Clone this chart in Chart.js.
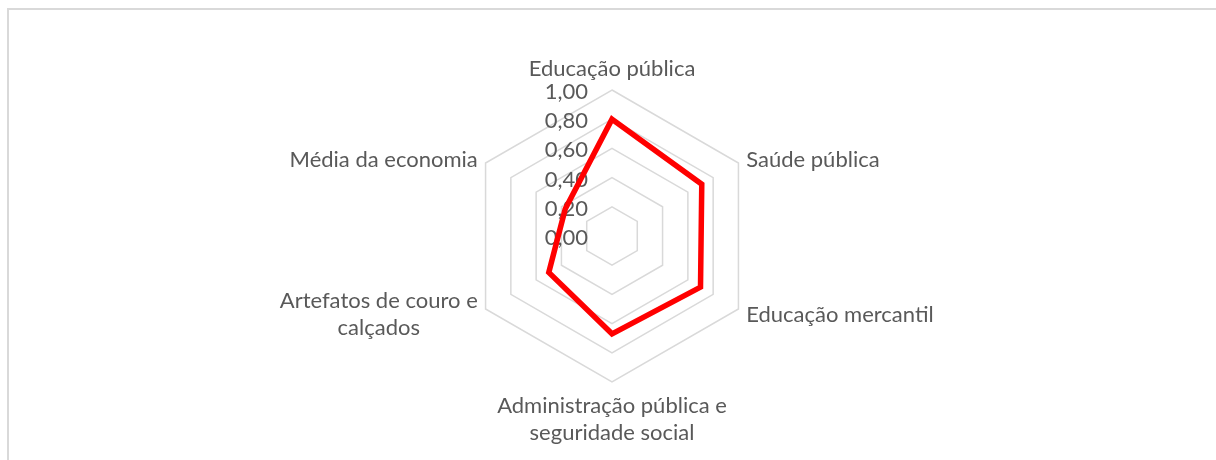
<!DOCTYPE html>
<html>
<head>
<meta charset="utf-8">
<script src="https://cdn.jsdelivr.net/npm/chart.js@4.4.0/dist/chart.umd.min.js"></script>
<style>
  html, body { margin: 0; padding: 0; background: #ffffff; }
  #wrap { position: relative; width: 1216px; height: 460px; overflow: hidden; }
  #frame { position: absolute; left: 7px; top: 8px; width: 1300px; height: 600px;
           border-top: 2px solid #d9d9d9; border-left: 2px solid #d9d9d9; box-sizing: border-box; }
  canvas { position: absolute; left: 0; top: 0; }
</style>
</head>
<body>
<div id="wrap">
  <div id="frame"></div>
  <canvas id="c" width="1216" height="460"></canvas>
</div>
<script>
// ---- data ----
const categories = [
  ["Educação pública"],
  ["Saúde pública"],
  ["Educação mercantil"],
  ["Administração pública e", "seguridade social"],
  ["Artefatos de couro e", "calçados"],
  ["Média da economia"]
];
const seriesValues = [0.80, 0.71, 0.70, 0.67, 0.50, 0.37];
const tickValues = [0.00, 0.20, 0.40, 0.60, 0.80, 1.00];
const tickLabels = ["0,00", "0,20", "0,40", "0,60", "0,80", "1,00"];

const FONT = '22px Lato';
const TEXT_COLOR = '#595959';
const LINE_H = 27;

const labelPlugin = {
  id: 'excelLabels',
  beforeDatasetsDraw(chart) {
    const scale = chart.scales.r;
    const ctx = chart.ctx;
    ctx.save();
    ctx.font = FONT;
    ctx.fillStyle = TEXT_COLOR;
    ctx.textAlign = 'right';
    ctx.textBaseline = 'alphabetic';
    tickValues.forEach((v, i) => {
      const y = scale.yCenter - scale.getDistanceFromCenterForValue(v);
      ctx.fillText(tickLabels[i], scale.xCenter - 24, y + 9);
    });
    ctx.restore();
  },
  afterDraw(chart) {
    const scale = chart.scales.r;
    const ctx = chart.ctx;
    ctx.save();
    ctx.font = FONT;
    ctx.fillStyle = TEXT_COLOR;
    ctx.textBaseline = 'alphabetic';
    const pad = 9;
    categories.forEach((lines, i) => {
      const p = scale.getPointPosition(i, scale.drawingArea + pad);
      const dx = p.x - scale.xCenter;
      const dy = p.y - scale.yCenter;
      const widths = lines.map(t => ctx.measureText(t).width);
      const maxW = Math.max(...widths);
      let blockCenterX;
      if (Math.abs(dx) < 1) blockCenterX = p.x;
      else if (dx > 0) blockCenterX = p.x + maxW / 2;
      else blockCenterX = p.x - maxW / 2;
      const blockH = lines.length * LINE_H;
      let top;
      if (Math.abs(dx) < 1) top = dy < 0 ? p.y - blockH : p.y;
      else top = p.y - blockH / 2;
      ctx.textAlign = 'center';
      lines.forEach((t, k) => {
        ctx.fillText(t, blockCenterX, top + k * LINE_H + LINE_H / 2 + 8);
      });
    });
    ctx.restore();
  }
};

new Chart(document.getElementById('c'), {
  type: 'radar',
  data: {
    labels: categories,
    datasets: [{
      data: seriesValues,
      borderColor: '#ff0000',
      borderWidth: 5.5,
      fill: false,
      pointRadius: 0,
      pointHoverRadius: 0,
      tension: 0,
      borderJoinStyle: 'miter'
    }]
  },
  options: {
    responsive: false,
    animation: false,
    devicePixelRatio: 1,
    layout: { padding: { left: 8, right: 0, top: 90, bottom: 78 } },
    plugins: { legend: { display: false }, tooltip: { enabled: false } },
    scales: {
      r: {
        min: 0,
        max: 1,
        ticks: { stepSize: 0.2, display: false },
        pointLabels: { display: false },
        angleLines: { display: false },
        grid: { color: '#d9d9d9', lineWidth: 1.5, circular: false }
      }
    }
  },
  plugins: [labelPlugin]
});
</script>
</body>
</html>
